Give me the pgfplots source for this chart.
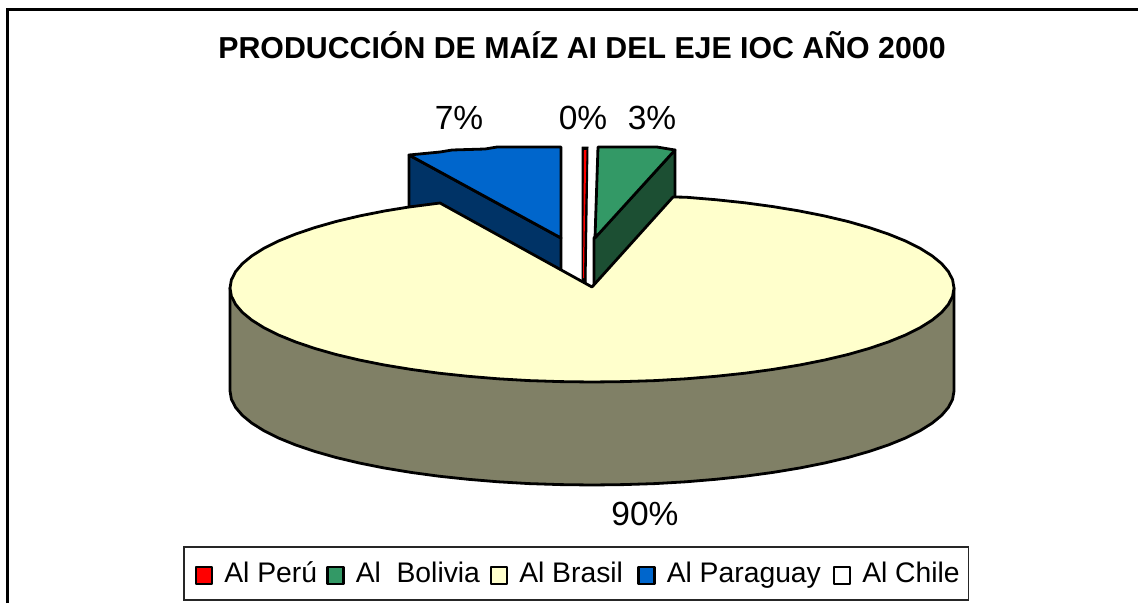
\documentclass[border=0pt]{standalone}
\usepackage{pgfplots}
\pgfplotsset{compat=1.18}
\usepackage{fontspec}
\setmainfont{Liberation Sans}
\definecolor{cRed}{HTML}{FF0000}
\definecolor{cGreen}{HTML}{339966}
\definecolor{cGreenD}{HTML}{1C4F33}
\definecolor{cYellow}{HTML}{FFFFCC}
\definecolor{cOlive}{HTML}{808066}
\definecolor{cBlue}{HTML}{0066CC}
\definecolor{cBlueD}{HTML}{003366}
\pgfplotsset{
  swatch/.style={legend image code/.code={\draw[line width=2.5pt,draw=black,fill=#1] (0pt,-1pt) rectangle (16pt,16pt);}},
}
\begin{document}
\begin{tikzpicture}
\begin{axis}[
  scale only axis, width=1138pt, height=603pt,
  xmin=0, xmax=1138, ymin=0, ymax=603, y dir=reverse,
  hide axis,
  legend columns=5,
  legend cell align=left,
  legend style={
    at={(axis cs:183,546)}, anchor=north west,
    draw=black!85, line width=1.5pt, fill=white,
    inner xsep=11pt, inner ysep=0pt, minimum height=53pt,
    font=\fontsize{28.3}{32}\selectfont,
    nodes={inner sep=0pt, anchor=base west},
    /tikz/column sep=0pt,
    /tikz/every odd column/.append style={column sep=11pt},
    /tikz/every even column/.append style={column sep=0pt},
  },
  every axis plot/.append style={line width=2.8pt, line join=round, draw=black},
]
% page extent
\path (axis cs:0,0) rectangle (axis cs:1138,603);
% frame of the chart area
\draw[line width=3pt] (axis cs:7,603) -- (axis cs:7,9) -- (axis cs:1138,9);

% side walls, drawn first
\addplot[forget plot, fill=cOlive] coordinates {
 (230,288) (230,391) (231.4,399.2) (235.5,407.3) (242.3,415.3) (251.8,423.1) (263.9,430.7) (278.5,438) (295.5,444.9) (314.7,451.4) (336,457.5) (359.3,463) (384.4,468) (411,472.4) (439,476.2) (468.2,479.3) (498.3,481.8) (529.1,483.6) (560.4,484.6) (592,485)
 (623.6,484.6) (654.9,483.6) (685.7,481.8) (715.8,479.3) (745,476.2) (773,472.4) (799.6,468) (824.7,463) (848,457.5) (869.3,451.4) (888.5,444.9) (905.5,438) (920.1,430.7) (932.2,423.1) (941.7,415.3) (948.5,407.3) (952.6,399.2) (954,391) (954,288) (592,288)} -- cycle;
\addplot[forget plot, fill=cBlueD] coordinates {(409,155) (561,238) (561,275) (440,208) (409,207)} -- cycle;
\addplot[forget plot, fill=cGreenD] coordinates {(675,150) (675,197) (594,287) (594,238)} -- cycle;
\addplot[forget plot, fill=black, line width=1pt] coordinates {(582,147) (588,147) (586,283) (582,281)} -- cycle;

% top faces, in legend order
\addplot[fill=cRed, draw=none, swatch=cRed] coordinates {(584,150) (586.5,150) (585,215) (584,278) (583,278) (583.5,215)} -- cycle;
\addlegendentry{\makebox[102pt][l]{\rule[-16pt]{0pt}{30pt}Al Perú}}
\addplot[fill=cGreen, swatch=cGreen] coordinates {(595,238) (598,147) (657,147) (675,150)} -- cycle;
\addlegendentry{\makebox[134pt][l]{Al\ \ Bolivia}}
\addplot[fill=cYellow, swatch=cYellow] coordinates {
 (592,287) (673,197) (685.7,197.2) (715.8,199.7) (745,202.8) (773,206.6) (799.6,211) (824.7,216) (848,221.5) (869.3,227.6) (888.5,234.1) (905.5,241) (920.1,248.3) (932.2,255.9) (941.7,263.7) (948.5,271.7) (952.6,279.8) (954,288)
 (952.6,296.2) (948.5,304.3) (941.7,312.3) (932.2,320.1) (920.1,327.7) (905.5,335) (888.5,341.9) (869.3,348.4) (848,354.5) (824.7,360) (799.6,365) (773,369.4) (745,373.2) (715.8,376.3) (685.7,378.8) (654.9,380.6) (623.6,381.6) (592,382)
 (560.4,381.6) (529.1,380.6) (498.3,378.8) (468.2,376.3) (439,373.2) (411,369.4) (384.4,365) (359.3,360) (336,354.5) (314.7,348.4) (295.5,341.9) (278.5,335) (263.9,327.7) (251.8,320.1) (242.3,312.3) (235.5,304.3) (231.4,296.2) (230,288)
 (231.4,279.8) (235.5,271.7) (242.3,263.7) (251.8,255.9) (263.9,248.3) (278.5,241) (295.5,234.1) (314.7,227.6) (336,221.5) (359.3,216) (384.4,211) (409,207) (440,203)} -- cycle;
\addlegendentry{\makebox[118pt][l]{Al Brasil}}
\addplot[fill=cBlue, swatch=cBlue] coordinates {(561,238) (561,147) (497,147) (485,149) (452,150) (440,152) (409,155)} -- cycle;
\addlegendentry{\makebox[166pt][l]{Al Paraguay}}
\addplot[fill=white, draw=none, swatch=white] coordinates {(589,148) (590,148) (589.5,283)} -- cycle;
\addlegendentry{\makebox[95pt][l]{Al Chile}}

% title and data labels
\node[anchor=base, font=\bfseries\fontsize{30.3}{34}\selectfont] at (axis cs:582,58) {PRODUCCIÓN DE MAÍZ AI DEL EJE IOC AÑO 2000};
\node[anchor=base, font=\fontsize{33.5}{36}\selectfont] at (axis cs:459,129) {7\%};
\node[anchor=base, font=\fontsize{33.5}{36}\selectfont] at (axis cs:583,129) {0\%};
\node[anchor=base, font=\fontsize{33.5}{36}\selectfont] at (axis cs:652,129) {3\%};
\node[anchor=base, font=\fontsize{33.5}{36}\selectfont] at (axis cs:645,525) {90\%};
\end{axis}
\end{tikzpicture}
\end{document}
